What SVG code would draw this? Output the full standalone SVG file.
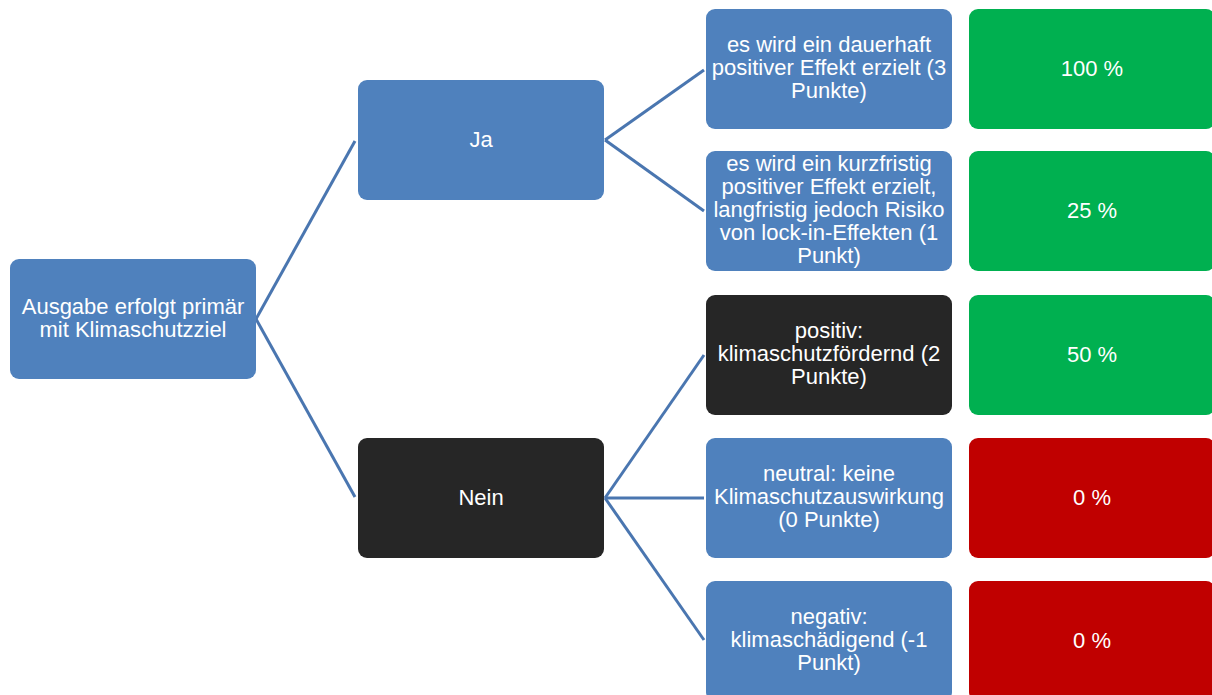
<svg xmlns="http://www.w3.org/2000/svg" width="1212" height="695" viewBox="0 0 1212 695">
<style>
.b{fill:#4f81bd}
.d{fill:#262626}
.g{fill:#00b050}
.r{fill:#c00000}
text{font-family:"Liberation Sans",Arial,sans-serif;font-size:22px;fill:#ffffff;text-anchor:middle}
.c{stroke:#4a76b0;stroke-width:3;fill:none}
</style>
<rect width="1212" height="695" fill="#ffffff"/>
<g id="connectors" class="c">
<path d="M256,319 L355,141"/>
<path d="M256,319 L355,497"/>
<path d="M605,140 L704,70"/>
<path d="M605,140 L704,211"/>
<path d="M605,498 L704,355"/>
<path d="M605,498 L704,498"/>
<path d="M605,498 L704,640"/>
</g>
<g id="root"><rect class="b" x="10" y="259" width="246" height="120" rx="9"/>
<text x="133" y="314">Ausgabe erfolgt primär</text><text x="133" y="337">mit Klimaschutzziel</text></g>
<g id="ja"><rect class="b" x="358" y="80" width="246" height="120" rx="9"/>
<text x="481" y="147">Ja</text></g>
<g id="nein"><rect class="d" x="358" y="438" width="246" height="120" rx="9"/>
<text x="481" y="505">Nein</text></g>
<g id="n1"><rect class="b" x="706" y="9" width="246" height="120" rx="9"/>
<text x="829" y="52">es wird ein dauerhaft</text><text x="829" y="75">positiver Effekt erzielt (3</text><text x="829" y="98">Punkte)</text></g>
<g id="n2"><rect class="b" x="706" y="151" width="246" height="120" rx="9"/>
<text x="829" y="171">es wird ein kurzfristig</text><text x="829" y="194">positiver Effekt erzielt,</text><text x="829" y="217">langfristig jedoch Risiko</text><text x="829" y="240">von lock-in-Effekten (1</text><text x="829" y="263">Punkt)</text></g>
<g id="n3"><rect class="d" x="706" y="295" width="246" height="120" rx="9"/>
<text x="829" y="338">positiv:</text><text x="829" y="361">klimaschutzfördernd (2</text><text x="829" y="384">Punkte)</text></g>
<g id="n4"><rect class="b" x="706" y="438" width="246" height="120" rx="9"/>
<text x="829" y="481">neutral: keine</text><text x="829" y="504">Klimaschutzauswirkung</text><text x="829" y="527">(0 Punkte)</text></g>
<g id="n5"><rect class="b" x="706" y="581" width="246" height="120" rx="9"/>
<text x="829" y="624">negativ:</text><text x="829" y="647">klimaschädigend (-1</text><text x="829" y="670">Punkt)</text></g>
<g id="p1"><rect class="g" x="969" y="9" width="246" height="120" rx="9"/><text x="1092" y="76">100 %</text></g>
<g id="p2"><rect class="g" x="969" y="151" width="246" height="120" rx="9"/><text x="1092" y="218">25 %</text></g>
<g id="p3"><rect class="g" x="969" y="295" width="246" height="120" rx="9"/><text x="1092" y="362">50 %</text></g>
<g id="p4"><rect class="r" x="969" y="438" width="246" height="120" rx="9"/><text x="1092" y="505">0 %</text></g>
<g id="p5"><rect class="r" x="969" y="581" width="246" height="120" rx="9"/><text x="1092" y="648">0 %</text></g>
</svg>
